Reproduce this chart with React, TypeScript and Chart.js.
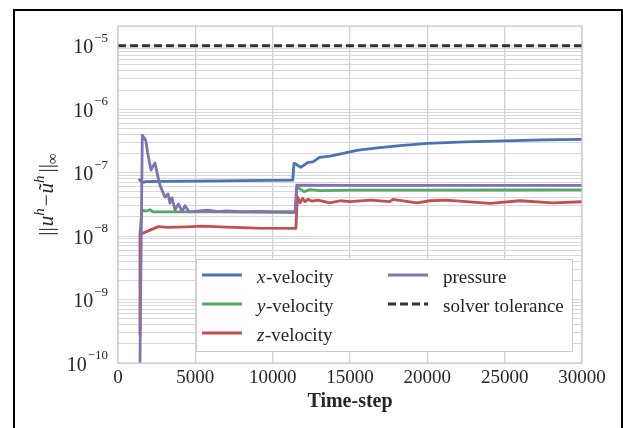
import React, { useEffect, useRef } from 'react';
import { Chart, registerables } from 'chart.js';

Chart.register(...registerables);

const FONT = '"Liberation Serif", "Times New Roman", serif';

// ---- axis ticks ----
const xTicks = [0, 5000, 10000, 15000, 20000, 25000, 30000];
const yDecades = [-10, -9, -8, -7, -6, -5];
const yMin = 1e-10;
const yMax = 2.04e-5;

// ---- series: x-velocity ----
const xVelSteps = [1360, 1550, 1810, 2600, 5000, 8000, 11300, 11380, 11510, 11810, 12290, 12610, 13020, 13710, 14550, 15520, 16940, 18230, 20030, 22440, 25000, 27500, 30000];
const xVelValues = [7.97e-8, 6.97e-8, 7.2e-8, 7.25e-8, 7.35e-8, 7.45e-8, 7.6e-8, 1.40e-7, 1.36e-7, 1.21e-7, 1.45e-7, 1.48e-7, 1.74e-7, 1.82e-7, 2.0e-7, 2.26e-7, 2.48e-7, 2.66e-7, 2.88e-7, 3.05e-7, 3.17e-7, 3.27e-7, 3.33e-7];

// ---- series: y-velocity ----
const yVelSteps = [1420, 1550, 1810, 2070, 2260, 2700, 4000, 6000, 8000, 10000, 11300, 11500, 11560, 11640, 12030, 12410, 13060, 15000, 20000, 25000, 30000];
const yVelValues = [1.1e-8, 2.58e-8, 2.48e-8, 2.6e-8, 2.4e-8, 2.4e-8, 2.4e-8, 2.4e-8, 2.38e-8, 2.36e-8, 2.35e-8, 2.35e-8, 5.6e-8, 5.8e-8, 5.0e-8, 5.4e-8, 5.2e-8, 5.3e-8, 5.3e-8, 5.32e-8, 5.33e-8];

// ---- series: z-velocity ----
const zVelSteps = [1358, 1422, 1570, 2069, 2606, 3233, 4400, 5500, 7000, 9000, 11300, 11500, 11600, 11770, 11940, 12090, 12290, 12540, 12930, 13710, 14360, 15000, 16300, 17570, 17780, 19310, 20170, 21250, 22500, 24050, 25990, 28120, 30000];
const zVelValues = [2.76e-10, 1.07e-8, 1.1e-8, 1.24e-8, 1.41e-8, 1.37e-8, 1.4e-8, 1.43e-8, 1.38e-8, 1.33e-8, 1.32e-8, 1.32e-8, 4.15e-8, 3.34e-8, 3.9e-8, 3.5e-8, 3.8e-8, 3.55e-8, 3.69e-8, 3.34e-8, 3.6e-8, 3.5e-8, 3.69e-8, 3.5e-8, 3.78e-8, 3.34e-8, 3.6e-8, 3.69e-8, 3.5e-8, 3.27e-8, 3.6e-8, 3.34e-8, 3.47e-8];

// ---- series: pressure ----
const pressureSteps = [1420, 1571, 1791, 1920, 2134, 2392, 2606, 2716, 2845, 3039, 3233, 3362, 3492, 3686, 3912, 4138, 4332, 4600, 5800, 6500, 7000, 8000, 9000, 10000, 11300, 11445, 11555, 15000, 20000, 25000, 30000];
const pressureValues = [1e-10, 3.9e-7, 3.24e-7, 2.04e-7, 1.1e-7, 1.42e-7, 8.1e-8, 6.3e-8, 5.3e-8, 4.1e-8, 4.6e-8, 3.3e-8, 4.0e-8, 2.6e-8, 3.2e-8, 2.45e-8, 3.0e-8, 2.4e-8, 2.55e-8, 2.42e-8, 2.5e-8, 2.42e-8, 2.45e-8, 2.42e-8, 2.43e-8, 2.4e-8, 6.35e-8, 6.3e-8, 6.3e-8, 6.3e-8, 6.3e-8];

// ---- series: solver tolerance ----
const toleranceSteps = [0, 30000];
const toleranceValues = [1e-5, 1e-5];

// ---- labels & colours ----
const seriesLabels = ['-velocity', '-velocity', '-velocity', 'pressure', 'solver tolerance'];
const seriesMathPrefix = ['x', 'y', 'z', '', ''];
const seriesColors = ['#4C72B0', '#55A868', '#C44E52', '#8172B2', '#333333'];
const xAxisTitle = 'Time-step';

const pts = (s: number[], v: number[]) => s.map((x, i) => ({ x, y: v[i] }));

type Run = { t: string; f: string; dy?: number; sp?: number };

function runsWidth(ctx: CanvasRenderingContext2D, runs: Run[]) {
  let w = 0;
  for (const r of runs) {
    ctx.font = r.f;
    w += ctx.measureText(r.t).width + (r.sp || 0);
  }
  return w;
}
function drawRuns(ctx: CanvasRenderingContext2D, runs: Run[], x: number, y: number) {
  let cx = x;
  for (const r of runs) {
    ctx.font = r.f;
    ctx.fillText(r.t, cx, y + (r.dy || 0));
    cx += ctx.measureText(r.t).width + (r.sp || 0);
  }
}

const decorPlugin = {
  id: 'decor',
  afterDraw(chart: any) {
    const { ctx, chartArea: a, scales } = chart;
    const xs = scales.x;
    const ys = scales.y;
    ctx.save();

    // spines
    ctx.strokeStyle = '#cccccc';
    ctx.lineWidth = 1.2;
    ctx.strokeRect(a.left, a.top, a.right - a.left, a.bottom - a.top);

    ctx.fillStyle = '#262626';
    ctx.textBaseline = 'alphabetic';

    // x tick labels
    ctx.textAlign = 'center';
    ctx.font = `19px ${FONT}`;
    xTicks.forEach((v) => ctx.fillText(String(v), xs.getPixelForValue(v), a.bottom + 20));

    // x title
    ctx.font = `bold 20px ${FONT}`;
    ctx.fillText(xAxisTitle, (a.left + a.right) / 2, a.bottom + 44);

    // y tick labels
    ctx.textAlign = 'left';
    yDecades.forEach((e) => {
      const py = ys.getPixelForValue(Math.pow(10, e));
      const runs: Run[] = [
        { t: '10', f: `20px ${FONT}`, sp: 1 },
        { t: '\u2212' + Math.abs(e), f: `13px ${FONT}`, dy: -11.5 },
      ];
      const w = runsWidth(ctx, runs);
      drawRuns(ctx, runs, a.left - 10 - w, py + 7.5);
    });

    // y axis label (rotated)
    ctx.save();
    ctx.translate(53, (a.top + a.bottom) / 2);
    ctx.rotate(-Math.PI / 2);
    const big = `21px ${FONT}`;
    const bigI = `italic 21px ${FONT}`;
    const supI = `italic 15px ${FONT}`;
    const sub = `15px ${FONT}`;
    const lab: Run[] = [
      { t: '||', f: big, sp: 1 },
      { t: 'u', f: bigI },
      { t: 'h', f: supI, dy: -9, sp: 2 },
      { t: '\u2212', f: big, sp: 1 },
      { t: '\u0169', f: bigI },
      { t: 'h', f: supI, dy: -9, sp: 3 },
      { t: '||', f: big },
      { t: '\u221E', f: sub, dy: 4 },
    ];
    const lw = runsWidth(ctx, lab);
    drawRuns(ctx, lab, -lw / 2, 0);
    ctx.restore();

    // legend
    const bx = 196.5, by = 259.5, bw = 376, bh = 92;
    ctx.fillStyle = '#ffffff';
    ctx.fillRect(bx, by, bw, bh);
    ctx.strokeStyle = '#cccccc';
    ctx.lineWidth = 1;
    ctx.strokeRect(bx, by, bw, bh);
    const rows = [275, 304, 333];
    const colLine = [202, 388];
    const colText = [257, 443];
    const order = [[0, 0, 0], [1, 0, 1], [2, 0, 2], [3, 1, 0], [4, 1, 1]];
    order.forEach(([i, c, r]) => {
      const y = rows[r];
      ctx.strokeStyle = seriesColors[i];
      ctx.lineWidth = 3;
      ctx.setLineDash(i === 4 ? [8, 4] : []);
      ctx.beginPath();
      ctx.moveTo(colLine[c], y);
      ctx.lineTo(colLine[c] + 40, y);
      ctx.stroke();
      ctx.setLineDash([]);
      ctx.fillStyle = '#262626';
      const runs: Run[] = [];
      if (seriesMathPrefix[i]) runs.push({ t: seriesMathPrefix[i], f: `italic 19px ${FONT}`, sp: 0.5 });
      runs.push({ t: seriesLabels[i], f: `19px ${FONT}` });
      drawRuns(ctx, runs, colText[c], y + 8);
    });

    // outer frame
    ctx.strokeStyle = '#000000';
    ctx.lineWidth = 2;
    ctx.strokeRect(14, 10, 608, 440);
    ctx.restore();
  },
};

export default function App() {
  const ref = useRef<HTMLCanvasElement | null>(null);
  useEffect(() => {
    if (!ref.current) return;
    const yGrid: number[] = [];
    yDecades.forEach((e) => {
      for (let m = 1; m <= 9; m++) {
        const v = m * Math.pow(10, e);
        if (v <= yMax) yGrid.push(v);
      }
    });
    const common = { pointRadius: 0, borderWidth: 2.8, tension: 0, fill: false, borderJoinStyle: 'round' as const };
    const chart = new Chart(ref.current, {
      type: 'line',
      data: {
        datasets: [
          { ...common, label: 'solver tolerance', data: pts(toleranceSteps, toleranceValues), borderColor: seriesColors[4], borderDash: [8, 4], borderWidth: 3 },
          { ...common, label: 'pressure', data: pts(pressureSteps, pressureValues), borderColor: seriesColors[3] },
          { ...common, label: 'z-velocity', data: pts(zVelSteps, zVelValues), borderColor: seriesColors[2] },
          { ...common, label: 'y-velocity', data: pts(yVelSteps, yVelValues), borderColor: seriesColors[1] },
          { ...common, label: 'x-velocity', data: pts(xVelSteps, xVelValues), borderColor: seriesColors[0] },
        ],
      },
      options: {
        animation: false,
        responsive: false,
        devicePixelRatio: 1,
        layout: { padding: { left: 118, right: 41, top: 26, bottom: 65 } },
        plugins: { legend: { display: false }, tooltip: { enabled: false } },
        scales: {
          x: {
            type: 'linear',
            min: 0,
            max: 30000,
            afterFit: (s: any) => { s.height = 0; },
            ticks: { display: false, stepSize: 5000 },
            grid: { color: '#d2d2d2', lineWidth: 1.3, drawTicks: false },
            border: { display: false },
          },
          y: {
            type: 'logarithmic',
            min: yMin,
            max: yMax,
            afterFit: (s: any) => { s.width = 0; },
            afterBuildTicks: (s: any) => { s.ticks = yGrid.map((v) => ({ value: v })); },
            ticks: { display: false },
            grid: { color: '#d8d8d8', lineWidth: 1, drawTicks: false },
            border: { display: false },
          },
        },
      },
      plugins: [decorPlugin],
    });
    return () => chart.destroy();
  }, []);
  return (
    <div style={{ position: 'absolute', left: 0, top: 0, width: 623, height: 428, background: '#fff' }}>
      <canvas ref={ref} width={623} height={428} style={{ display: 'block' }} />
    </div>
  );
}
